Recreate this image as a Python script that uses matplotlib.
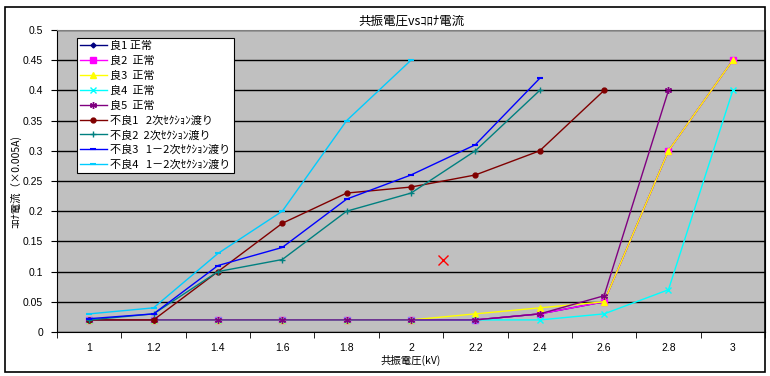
import numpy as np
import matplotlib
matplotlib.use("Agg")
from matplotlib import pyplot
from matplotlib.patches import Rectangle

pyplot.rcParams['font.family'] = ['Noto Sans CJK JP', 'DejaVu Sans']

# categories (kV)
voltages = ["1", "1.2", "1.4", "1.6", "1.8", "2", "2.2", "2.4", "2.6", "2.8", "3"]

# series values (None = no point)
good1 = [0.02, 0.02, 0.02, 0.02, 0.02, 0.02, 0.02, 0.03, 0.05, 0.30, 0.45]
good2 = [0.02, 0.02, 0.02, 0.02, 0.02, 0.02, 0.02, 0.03, 0.05, 0.30, 0.45]
good3 = [0.02, 0.02, 0.02, 0.02, 0.02, 0.02, 0.03, 0.04, 0.05, 0.30, 0.45]
good4 = [0.02, 0.02, 0.02, 0.02, 0.02, 0.02, 0.02, 0.02, 0.03, 0.07, 0.40]
good5 = [0.02, 0.02, 0.02, 0.02, 0.02, 0.02, 0.02, 0.03, 0.06, 0.40, None]
bad1 = [0.02, 0.02, 0.10, 0.18, 0.23, 0.24, 0.26, 0.30, 0.40, None, None]
bad2 = [0.02, 0.03, 0.10, 0.12, 0.20, 0.23, 0.30, 0.40, None, None, None]
bad3 = [0.022, 0.03, 0.11, 0.14, 0.22, 0.26, 0.31, 0.42, None, None, None]
bad4 = [0.03, 0.04, 0.13, 0.20, 0.35, 0.45, None, None, None, None, None]

# stray point between 2 and 2.2
stray_x = 5.5
stray_y = 0.12

series = [
    ("良1 正常", good1, "#000080", "D", 2.5),
    ("良2  正常", good2, "#FF00FF", "s", 4),
    ("良3  正常", good3, "#FFFF00", "^", 4),
    ("良4  正常", good4, "#00FFFF", "x", 4),
    ("良5  正常", good5, "#800080", (6, 2, 0), 5),
    ("不良1   2次ｾｸｼｮﾝ渡り", bad1, "#800000", "o", 3.5),
    ("不良2  2次ｾｸｼｮﾝ渡り", bad2, "#008080", "+", 5),
    ("不良3   1－2次ｾｸｼｮﾝ渡り", bad3, "#0000FF", "_", 5),
    ("不良4   1－2次ｾｸｼｮﾝ渡り", bad4, "#00CCFF", "_", 5),
]

fig = pyplot.figure(figsize=(7.7, 3.76), dpi=100)
fig.patches.append(Rectangle((5 / 770, 4 / 376), 760 / 770, 365 / 376,
                             transform=fig.transFigure, fill=False,
                             edgecolor="black", lw=1.2))

axes = fig.add_axes([57 / 770, 44 / 376, 708 / 770, 302 / 376])
axes.set_facecolor("#C0C0C0")

x = np.arange(len(voltages))
for label, vals, color, marker, ms in series:
    y = np.array([np.nan if v is None else v for v in vals])
    axes.plot(x, y, color=color, lw=1, marker=marker, ms=ms,
              mew=1.5 if marker == "_" else 1.0,
              label=label)

axes.plot([stray_x], [stray_y], linestyle="none", marker="x", color="red",
          ms=7, mew=1)

axes.set_xlim(-0.5, len(voltages) - 0.5)
axes.set_ylim(0, 0.5)
axes.set_yticks(np.arange(0, 0.51, 0.05))
axes.set_yticklabels(["0", "0.05", "0.1", "0.15", "0.2", "0.25", "0.3",
                      "0.35", "0.4", "0.45", "0.5"], fontsize=7.5,
                     family=["Liberation Sans"])
axes.set_xticks(x)
axes.set_xticklabels(voltages, fontsize=7.5, family=["Liberation Sans"])
axes.tick_params(axis="x", length=0, pad=8)
axes.set_xticks(np.arange(-0.5, len(voltages), 1), minor=True)
axes.tick_params(axis="x", which="minor", length=4, direction="out")
axes.tick_params(axis="y", length=4, direction="out", pad=6)
axes.grid(axis="y", color="black", lw=1)
axes.set_axisbelow(True)
for side in ("left", "bottom", "right"):
    axes.spines[side].set_color("black")
axes.spines["top"].set_color("#808080")

axes.set_title("共振電圧vsｺﾛﾅ電流", fontsize=9, pad=4)
axes.set_xlabel("共振電圧(kV)", fontsize=7.5, labelpad=1)
axes.set_ylabel("ｺﾛﾅ電流（×0.005A)", fontsize=7.5, labelpad=1)

leg = axes.legend(loc="upper left", bbox_to_anchor=(0.028, 0.975),
                  fontsize=8, frameon=True, fancybox=False, framealpha=1,
                  borderpad=0.3, labelspacing=0.42, handlelength=2.4,
                  handletextpad=0.3, borderaxespad=0)
leg.get_frame().set_edgecolor("black")
leg.get_frame().set_linewidth(0.8)
leg.get_frame().set_facecolor("white")

fig.savefig("out.png", dpi=100)
